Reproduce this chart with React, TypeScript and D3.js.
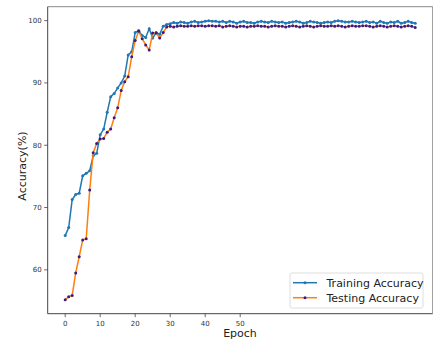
import React from "react";
import * as d3 from "d3";

// Accuracy per epoch (percent)
const trainingAccuracy: number[] = [
  65.5, 66.8, 71.3, 72.1, 72.3, 75.1, 75.5, 75.9, 78.3, 78.7,
  81.7, 82.6, 85.3, 87.8, 88.3, 89.2, 90.0, 91.1, 94.5, 95.0,
  98.1, 98.4, 97.6, 97.3, 98.7, 97.2, 98.1, 97.8, 99.1, 99.4,
  99.5, 99.7, 99.6, 99.8, 99.7, 99.6, 99.8, 99.9, 99.7, 99.8,
  99.9, 100.0, 99.9, 99.9, 99.8, 99.9, 99.7, 99.9, 99.8, 99.6,
  99.8, 99.9, 99.7, 99.7, 99.6, 99.8, 99.9, 99.8, 99.7, 99.9,
  99.8, 99.7, 99.8, 99.6, 99.7, 99.8, 99.9, 99.8, 99.6, 99.7,
  99.9, 99.8, 99.7, 99.6, 99.7, 99.8, 99.7, 99.9, 100.0, 99.9,
  99.8, 99.8, 99.9, 99.8, 99.7, 99.8, 99.9, 99.7, 99.8, 99.6,
  99.9, 99.7, 99.6, 99.8, 99.7, 99.9, 99.6, 99.7, 99.9, 99.7,
  99.6,
];

const testingAccuracy: number[] = [
  55.2, 55.7, 55.9, 59.5, 62.1, 64.8, 65.0, 72.8, 78.8, 80.3,
  81.0, 81.1, 82.1, 82.6, 84.4, 86.0, 88.8, 90.2, 91.0, 94.2,
  96.8, 98.3, 97.1, 96.1, 95.3, 98.0, 98.0, 97.2, 98.1, 99.0,
  99.1, 99.0, 99.1, 99.2, 99.1, 99.1, 99.2, 99.1, 99.2, 99.2,
  99.1, 99.2, 99.2, 99.1, 99.2, 99.0, 99.1, 99.2, 99.1, 99.0,
  99.1, 99.1, 99.0, 99.1, 99.1, 99.2, 99.1, 99.1, 99.0, 99.1,
  99.2, 99.1, 99.1, 99.0, 99.1, 99.2, 99.1, 99.0, 99.1, 99.2,
  99.1, 99.0, 99.1, 99.2, 99.1, 99.1, 99.2, 99.1, 99.2, 99.1,
  99.0, 99.1, 99.2, 99.1, 99.1, 99.2, 99.2, 99.1, 99.0, 99.1,
  99.2, 99.1, 99.0, 99.1, 99.2, 99.1, 99.0, 99.1, 99.2, 99.1,
  98.9,
];

const xTicks: number[] = [0, 10, 20, 30, 40, 50];
const yTicks: number[] = [60, 70, 80, 90, 100];
const seriesNames: string[] = ["Training Accuracy", "Testing Accuracy"];

const W = 433;
const H = 344;
const plot = { left: 47.7, right: 432.7, top: 6.7, bottom: 313.7 };

const BLUE = "#1f77b4";
const ORANGE = "#ff7f0e";
const DOT = "#3a1b86";
const FONT = "'DejaVu Sans', sans-serif";

export default function App() {
  const n = trainingAccuracy.length;
  const all = trainingAccuracy.concat(testingAccuracy);
  const yMin = d3.min(all) as number;
  const yMax = d3.max(all) as number;
  const xPad = (n - 1) * 0.05;
  const yPad = (yMax - yMin) * 0.05;

  const x = d3.scaleLinear().domain([-xPad, n - 1 + xPad]).range([plot.left, plot.right]);
  const y = d3.scaleLinear().domain([yMin - yPad, yMax + yPad]).range([plot.bottom, plot.top]);

  const line = d3
    .line<number>()
    .x((_, i) => x(i))
    .y((v) => y(v));

  const series = [
    { name: seriesNames[0], data: trainingAccuracy, color: BLUE, dot: BLUE },
    { name: seriesNames[1], data: testingAccuracy, color: ORANGE, dot: DOT },
  ];

  const legend = { x: 290, y: 273, w: 133, h: 35 };

  return (
    <svg
      width={W}
      height={H}
      style={{ position: "absolute", left: 0, top: 0, background: "#fff" }}
      fontFamily={FONT}
    >
      <rect x={0} y={0} width={W} height={H} fill="#fff" />

      {series.map((s) => (
        <g key={s.name}>
          <path d={line(s.data) || ""} fill="none" stroke={s.color} strokeWidth={1.5} />
          {s.data.map((v, i) => (
            <circle key={i} cx={x(i)} cy={y(v)} r={1.5} fill={s.dot} />
          ))}
        </g>
      ))}

      {/* spines */}
      <line x1={plot.left} x2={plot.right} y1={plot.top} y2={plot.top} stroke="#8a8a8a" strokeWidth={1} />
      <line x1={plot.left} x2={plot.left} y1={plot.top} y2={plot.bottom} stroke="#444" strokeWidth={1} />
      <line x1={plot.left} x2={plot.right} y1={plot.bottom} y2={plot.bottom} stroke="#444" strokeWidth={1} />
      <line x1={plot.right} x2={plot.right} y1={plot.top} y2={plot.bottom} stroke="#8a8a8a" strokeWidth={1} />

      {/* y axis */}
      {yTicks.map((t) => (
        <g key={t}>
          <line x1={plot.left - 3.5} x2={plot.left} y1={y(t)} y2={y(t)} stroke="#444" strokeWidth={0.8} />
          <text x={plot.left - 6} y={y(t)} dy="0.35em" textAnchor="end" fontSize={7} fill="#333">
            {t}
          </text>
        </g>
      ))}

      {/* x axis */}
      {xTicks.map((t) => (
        <g key={t}>
          <line x1={x(t)} x2={x(t)} y1={plot.bottom} y2={plot.bottom + 3.5} stroke="#444" strokeWidth={0.8} />
          <text x={x(t)} y={plot.bottom + 12} textAnchor="middle" fontSize={7} fill="#333">
            {t}
          </text>
        </g>
      ))}

      <text x={240} y={337} textAnchor="middle" fontSize={11} fill="#222">
        Epoch
      </text>
      <text
        transform={`translate(25.5,166) rotate(-90)`}
        textAnchor="middle"
        fontSize={11}
        fill="#222"
      >
        Accuracy(%)
      </text>

      {/* legend */}
      <rect
        x={legend.x}
        y={legend.y}
        width={legend.w}
        height={legend.h}
        rx={2}
        fill="#fff"
        fillOpacity={0.85}
        stroke="#d6d6d6"
        strokeWidth={0.8}
      />
      {series.map((s, i) => {
        const cy = legend.y + 9.7 + i * 15;
        return (
          <g key={s.name}>
            <line x1={legend.x + 3} x2={legend.x + 27} y1={cy} y2={cy} stroke={s.color} strokeWidth={1.5} />
            <circle cx={legend.x + 15} cy={cy} r={1.5} fill={s.dot} />
            <text x={legend.x + 36.5} y={cy} dy="0.35em" fontSize={11} fill="#222">
              {s.name}
            </text>
          </g>
        );
      })}
    </svg>
  );
}
